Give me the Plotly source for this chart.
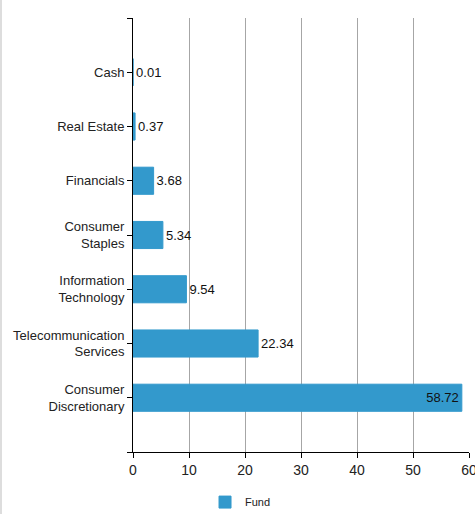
import plotly.graph_objects as go

categories = ["Cash", "Real Estate", "Financials", "Consumer<br>Staples",
              "Information<br>Technology", "Telecommunication<br>Services",
              "Consumer<br>Discretionary"]
values = [0.01, 0.37, 3.68, 5.34, 9.54, 22.34, 58.72]
labels = ["0.01", "0.37", "3.68", "5.34", "9.54", "22.34", "58.72"]
series_name = "Fund"
x_ticks = [0, 10, 20, 30, 40, 50, 60]

positions = list(range(len(categories)))
text_pos = ["inside" if v > 40 else "outside" for v in values]

fig = go.Figure()
fig.add_trace(go.Bar(
    x=values, y=positions, orientation="h", name=series_name,
    marker=dict(color="#3399cc", line=dict(color="#3399cc", width=1)),
    width=0.5,
    text=labels, textposition=text_pos, insidetextanchor="end",
    textfont=dict(color="#111111", size=13),
    cliponaxis=False,
))

fig.update_layout(
    width=475, height=514,
    margin=dict(l=133, r=6, t=18, b=62, autoexpand=False),
    paper_bgcolor="white", plot_bgcolor="white",
    font=dict(family="Liberation Sans, Arial, sans-serif", color="#222222", size=13),
    showlegend=True,
    legend=dict(orientation="h", x=0.32, xanchor="center", y=-0.082, yanchor="top",
                font=dict(size=11)),
    bargap=0.5,
)
fig.update_xaxes(
    range=[0, 60], tickvals=x_ticks, ticktext=[str(t) for t in x_ticks],
    showgrid=True, gridcolor="#a6a6a6", gridwidth=1,
    showline=True, linecolor="#000000", linewidth=1,
    ticks="outside", ticklen=5, tickcolor="#000000",
    tickfont=dict(size=14, color="#222222"), zeroline=False, automargin=False,
    ticklabeloverflow="allow",
)
fig.update_yaxes(
    range=[len(categories), -1],
    tickvals=[-1] + positions + [len(categories)],
    ticktext=[""] + categories + [""],
    showgrid=False, showline=True, linecolor="#000000", linewidth=1,
    ticks="outside", ticklen=5, tickcolor="#000000",
    tickfont=dict(size=13, color="#222222"), zeroline=False, automargin=False,
)
# light page border on the left edge
fig.add_shape(type="line", xref="paper", yref="paper",
              x0=-132 / 336, x1=-132 / 336, y0=-62 / 434, y1=1 + 18 / 434,
              line=dict(color="#dddddd", width=2))

fig.write_html("out.html")
